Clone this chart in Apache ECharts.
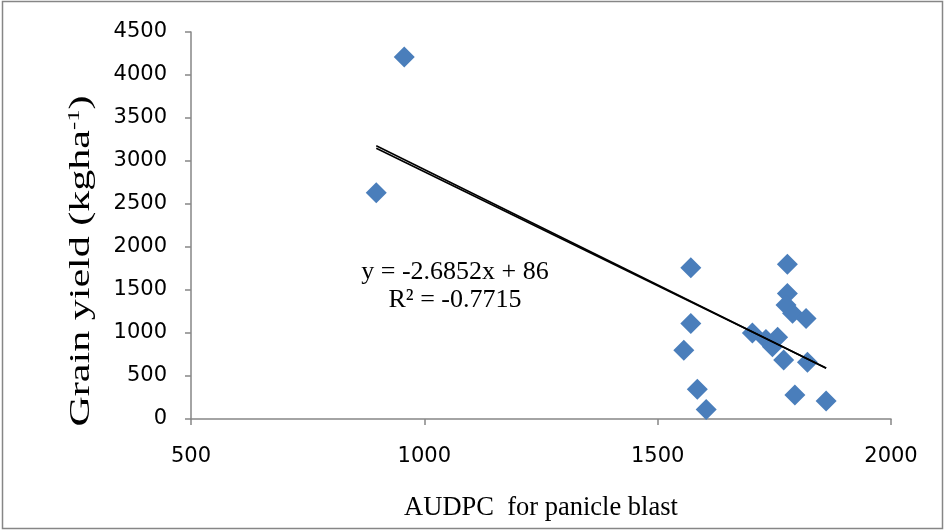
<!DOCTYPE html>
<html>
<head>
<meta charset="utf-8">
<script src="https://cdn.jsdelivr.net/npm/echarts@6/dist/echarts.min.js"></script>
<style>
  html, body { margin: 0; padding: 0; background: #fff; }
  #chart { width: 945px; height: 531px; }
</style>
</head>
<body>
<div id="chart"></div>
<script>
// AUDPC for panicle blast (x) against grain yield in kg/ha (y)
const audpc = [957, 897, 1571, 1778, 1571, 1556, 1585, 1604, 1778, 1775,
               1789, 1818, 1703, 1732, 1757, 1746, 1770, 1821, 1794, 1861];
const grainYield = [4210, 2630, 1760, 1800, 1110, 800, 345, 110, 1460, 1325,
                    1230, 1170, 1000, 925, 950, 840, 685, 660, 280, 210];

// Linear trend line, drawn twice (slightly different fits)
const trendX = [897, 1861];
const trendA = [3178, 590];
const trendB = [3148, 592];

const xTicks = [500, 1000, 1500, 2000];
const yTicks = [0, 500, 1000, 1500, 2000, 2500, 3000, 3500, 4000, 4500];

const equationText = 'y = -2.6852x + 86';
const rSquaredText = 'R² = -0.7715';

const points = audpc.map((x, i) => [x, grainYield[i]]);
const lineA = trendX.map((x, i) => [x, trendA[i]]);
const lineB = trendX.map((x, i) => [x, trendB[i]]);

const axisGrey = '#868686';
const tickFont = { color: '#000', fontFamily: 'DejaVu Sans', fontSize: 21 };
const serif = 'Liberation Serif';
const plain = v => String(v);

const chart = echarts.init(document.getElementById('chart'));
chart.setOption({
  animation: false,
  backgroundColor: '#fff',
  grid: { left: 191, right: 54, top: 32, bottom: 112 },
  xAxis: {
    type: 'value',
    min: xTicks[0], max: xTicks[xTicks.length - 1], interval: 500,
    axisLine: { show: true, onZero: false, lineStyle: { color: axisGrey, width: 1.5 } },
    axisTick: { show: true, inside: false, length: 6, lineStyle: { color: axisGrey, width: 1.5 } },
    splitLine: { show: false },
    axisLabel: Object.assign({ margin: 27, formatter: plain }, tickFont),
    name: 'AUDPC  for panicle blast',
    nameLocation: 'middle',
    nameGap: 76,
    nameTextStyle: { color: '#000', fontFamily: serif, fontSize: 26.5 }
  },
  yAxis: {
    type: 'value',
    min: yTicks[0], max: yTicks[yTicks.length - 1], interval: 500,
    axisLine: { show: true, lineStyle: { color: axisGrey, width: 1.5 } },
    axisTick: { show: true, inside: false, length: 6, lineStyle: { color: axisGrey, width: 1.5 } },
    splitLine: { show: false },
    axisLabel: Object.assign({ margin: 24, formatter: plain }, tickFont)
  },
  graphic: [
    {
      type: 'rect',
      shape: { x: 2.5, y: 1.5, width: 940, height: 527 },
      style: { fill: 'none', stroke: axisGrey, lineWidth: 1.5 },
      silent: true
    },
    {
      type: 'text',
      x: 81, y: 261,
      rotation: Math.PI / 2,
      scaleX: 1.45,
      style: {
        text: '{m|Grain yield (kgha}{s|-1}{m|)}',
        align: 'center', verticalAlign: 'middle',
        rich: {
          m: { fontFamily: serif, fontSize: 29, fill: '#000' },
          s: { fontFamily: serif, fontSize: 17, fill: '#000', verticalAlign: 'top', padding: [0, 0, 11, 0] }
        }
      }
    },
    {
      type: 'text',
      x: 455, y: 272,
      style: { text: equationText, fontFamily: serif, fontSize: 26, fill: '#000', align: 'center', verticalAlign: 'middle' }
    },
    {
      type: 'text',
      x: 455, y: 300,
      style: { text: rSquaredText, fontFamily: serif, fontSize: 26, fill: '#000', align: 'center', verticalAlign: 'middle' }
    }
  ],
  series: [
    {
      type: 'line', data: lineA, symbol: 'none', z: 3,
      lineStyle: { color: '#000', width: 1.6 }
    },
    {
      type: 'line', data: lineB, symbol: 'none', z: 3,
      lineStyle: { color: '#000', width: 1.6 }
    },
    {
      type: 'scatter', data: points, symbol: 'diamond', symbolSize: 21, z: 2,
      itemStyle: { color: '#4a7ebb', opacity: 1 }
    }
  ]
});
</script>
</body>
</html>
